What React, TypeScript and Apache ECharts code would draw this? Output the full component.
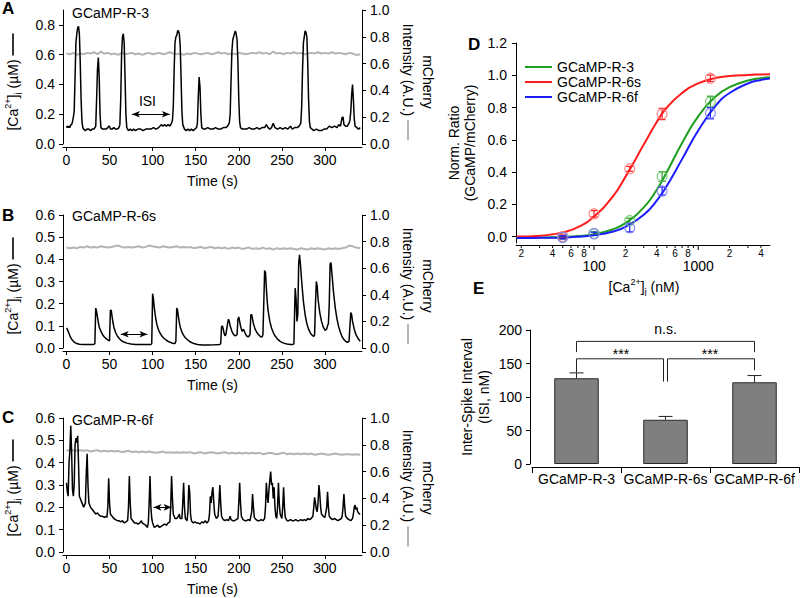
import { useEffect, useRef } from 'react';
import * as echarts from 'echarts';

const FONT = '"Liberation Sans", Arial, Helvetica, sans-serif';

// ---------------- Panels A-C : calcium traces ----------------
const timeTicks = [0, 50, 100, 150, 200, 250, 300];
const caTicksA = [0, 0.2, 0.4, 0.6, 0.8];
const caTicksBC = [0, 0.1, 0.2, 0.3, 0.4, 0.5, 0.6];
const traceNames = ['GCaMP-R-3', 'GCaMP-R-6s', 'GCaMP-R-6f'];

const caA = [
  [0, 0.11], [1, 0.12], [2, 0.11], [3, 0.12], [4, 0.11], [5, 0.13], [6, 0.13], [7, 0.15], [8, 0.18], [9, 0.22],
  [10, 0.45], [11, 0.68], [12, 0.74], [13, 0.78], [14, 0.79], [15, 0.74], [16, 0.55], [17, 0.3], [18, 0.15], [19, 0.11],
  [20, 0.1], [22, 0.09], [24, 0.1], [26, 0.1], [28, 0.09], [30, 0.1], [32, 0.1], [34, 0.12], [35, 0.3], [36, 0.5],
  [37, 0.58], [38, 0.45], [39, 0.2], [40, 0.11], [42, 0.1], [44, 0.1], [46, 0.1], [48, 0.11], [49, 0.12], [50, 0.12],
  [51, 0.1], [53, 0.1], [55, 0.11], [57, 0.1], [59, 0.1], [61, 0.11], [62, 0.13], [63, 0.3], [64, 0.6], [65, 0.72],
  [66, 0.74], [67, 0.68], [68, 0.45], [69, 0.2], [70, 0.11], [72, 0.09], [74, 0.1], [76, 0.09], [78, 0.1], [80, 0.09],
  [83, 0.1], [86, 0.1], [89, 0.09], [92, 0.1], [95, 0.1], [98, 0.1], [101, 0.11], [104, 0.1], [107, 0.11], [110, 0.13],
  [112, 0.12], [114, 0.13], [116, 0.12], [118, 0.13], [120, 0.12], [122, 0.14], [123, 0.16], [124, 0.25], [125, 0.5], [126, 0.68],
  [127, 0.72], [128, 0.73], [129, 0.76], [130, 0.76], [131, 0.74], [132, 0.66], [133, 0.45], [134, 0.22], [135, 0.13], [137, 0.1],
  [139, 0.09], [141, 0.1], [143, 0.09], [145, 0.1], [147, 0.09], [149, 0.1], [151, 0.11], [152, 0.14], [153, 0.32], [154, 0.45],
  [155, 0.38], [156, 0.2], [157, 0.11], [159, 0.1], [161, 0.1], [164, 0.11], [167, 0.1], [170, 0.1], [173, 0.11], [176, 0.1],
  [179, 0.1], [182, 0.11], [185, 0.11], [187, 0.12], [189, 0.14], [190, 0.2], [191, 0.42], [192, 0.62], [193, 0.7], [194, 0.72],
  [195, 0.74], [196, 0.76], [197, 0.74], [198, 0.7], [199, 0.55], [200, 0.3], [201, 0.15], [202, 0.11], [204, 0.1], [206, 0.1],
  [209, 0.1], [212, 0.11], [215, 0.1], [218, 0.1], [221, 0.11], [224, 0.1], [227, 0.11], [230, 0.11], [232, 0.13], [234, 0.11],
  [236, 0.1], [238, 0.11], [240, 0.14], [242, 0.11], [245, 0.1], [248, 0.11], [251, 0.1], [254, 0.11], [257, 0.1], [260, 0.12],
  [262, 0.1], [265, 0.11], [268, 0.11], [270, 0.12], [272, 0.14], [273, 0.25], [274, 0.5], [275, 0.68], [276, 0.72], [277, 0.76],
  [278, 0.75], [279, 0.72], [280, 0.55], [281, 0.3], [282, 0.15], [283, 0.11], [285, 0.1], [287, 0.09], [290, 0.1], [293, 0.09],
  [296, 0.09], [299, 0.1], [302, 0.1], [305, 0.12], [308, 0.11], [311, 0.12], [314, 0.11], [316, 0.13], [318, 0.12], [319, 0.15],
  [320, 0.18], [321, 0.18], [322, 0.13], [324, 0.12], [326, 0.12], [328, 0.14], [329, 0.16], [330, 0.22], [331, 0.33], [332, 0.4],
  [333, 0.3], [334, 0.17], [335, 0.12], [337, 0.11], [339, 0.1], [341, 0.11],
];

const caB = [
  [0, 0.09], [1, 0.085], [2, 0.075], [3, 0.065], [4, 0.055], [5, 0.047], [6, 0.04], [7, 0.035], [8, 0.03], [10, 0.024],
  [12, 0.02], [15, 0.017], [20, 0.016], [25, 0.016], [30, 0.016], [32, 0.017], [33, 0.02], [34, 0.18], [35, 0.165], [36, 0.14],
  [37, 0.115], [38, 0.095], [40, 0.075], [42, 0.06], [44, 0.05], [46, 0.042], [48, 0.036], [50, 0.032], [51, 0.17], [52, 0.17],
  [53, 0.14], [54, 0.115], [55, 0.095], [57, 0.07], [59, 0.055], [61, 0.044], [63, 0.036], [66, 0.028], [70, 0.022], [75, 0.018],
  [80, 0.016], [85, 0.016], [90, 0.016], [95, 0.016], [98, 0.016], [99, 0.02], [100, 0.245], [101, 0.22], [102, 0.18], [103, 0.15],
  [104, 0.125], [105, 0.105], [107, 0.08], [109, 0.065], [111, 0.053], [113, 0.044], [116, 0.035], [119, 0.028], [122, 0.023], [125, 0.02],
  [126, 0.02], [127, 0.03], [128, 0.18], [129, 0.17], [130, 0.14], [131, 0.115], [132, 0.095], [134, 0.072], [136, 0.057], [138, 0.046],
  [141, 0.035], [144, 0.027], [148, 0.02], [152, 0.016], [158, 0.014], [165, 0.014], [172, 0.015], [178, 0.016], [179, 0.02], [180, 0.095],
  [181, 0.1], [182, 0.085], [183, 0.065], [184, 0.055], [185, 0.06], [187, 0.11], [188, 0.13], [189, 0.12], [190, 0.1], [192, 0.075],
  [194, 0.06], [196, 0.055], [198, 0.06], [199, 0.13], [200, 0.14], [201, 0.12], [202, 0.1], [203, 0.085], [204, 0.075], [205, 0.085],
  [206, 0.08], [207, 0.07], [209, 0.055], [211, 0.05], [213, 0.06], [214, 0.15], [215, 0.15], [216, 0.13], [217, 0.11], [219, 0.085],
  [221, 0.07], [223, 0.06], [225, 0.052], [227, 0.05], [228, 0.06], [229, 0.2], [230, 0.35], [231, 0.34], [232, 0.27], [233, 0.21],
  [234, 0.17], [236, 0.12], [238, 0.09], [240, 0.07], [242, 0.055], [245, 0.04], [248, 0.03], [252, 0.022], [256, 0.018], [260, 0.016],
  [263, 0.016], [264, 0.02], [265, 0.2], [265.5, 0.27], [266.5, 0.22], [267.5, 0.12], [268.5, 0.15], [269.5, 0.38], [270.5, 0.42], [271.5, 0.38],
  [273, 0.3], [275, 0.21], [277, 0.15], [279, 0.11], [281, 0.085], [283, 0.068], [285, 0.058], [287, 0.052], [288, 0.06], [289, 0.2],
  [290, 0.3], [291, 0.28], [292, 0.22], [294, 0.16], [296, 0.12], [298, 0.095], [300, 0.08], [302, 0.085], [303, 0.1], [304, 0.11],
  [305, 0.2], [306, 0.38], [307, 0.385], [308, 0.34], [310, 0.25], [312, 0.18], [314, 0.13], [316, 0.095], [318, 0.07], [320, 0.05],
  [322, 0.038], [324, 0.03], [326, 0.026], [328, 0.03], [329, 0.1], [330, 0.16], [331, 0.15], [332, 0.12], [334, 0.085], [336, 0.06],
  [338, 0.045], [340, 0.035], [341, 0.03],
];

const caC = [
  [0, 0.31], [1, 0.27], [2, 0.25], [3, 0.4], [4, 0.45], [5, 0.565], [6, 0.45], [7, 0.28], [8, 0.25], [9, 0.3],
  [10, 0.48], [11, 0.51], [12, 0.49], [13, 0.52], [14, 0.4], [15, 0.25], [16, 0.24], [18, 0.22], [20, 0.2], [22, 0.22],
  [23, 0.35], [24, 0.44], [25, 0.3], [26, 0.22], [28, 0.2], [30, 0.19], [32, 0.18], [34, 0.17], [36, 0.175], [38, 0.165],
  [40, 0.16], [42, 0.16], [44, 0.155], [46, 0.16], [47, 0.155], [48, 0.2], [49, 0.33], [50, 0.22], [51, 0.17], [53, 0.16],
  [55, 0.15], [57, 0.145], [59, 0.14], [61, 0.14], [63, 0.135], [65, 0.14], [67, 0.13], [69, 0.135], [71, 0.14], [72, 0.2],
  [73, 0.34], [74, 0.22], [75, 0.15], [77, 0.14], [79, 0.13], [81, 0.13], [83, 0.125], [85, 0.13], [87, 0.14], [88, 0.13],
  [90, 0.125], [92, 0.12], [94, 0.11], [95, 0.13], [96, 0.22], [97, 0.34], [98, 0.2], [99, 0.15], [100, 0.13], [102, 0.11],
  [104, 0.115], [106, 0.12], [108, 0.11], [110, 0.115], [112, 0.12], [114, 0.125], [116, 0.12], [118, 0.13], [120, 0.135], [121, 0.2],
  [122, 0.34], [123, 0.24], [124, 0.17], [126, 0.15], [128, 0.15], [130, 0.16], [131, 0.17], [132, 0.15], [134, 0.15], [135, 0.22],
  [136, 0.31], [137, 0.2], [138, 0.15], [140, 0.14], [141, 0.18], [142, 0.3], [143, 0.27], [144, 0.17], [145, 0.14], [147, 0.13],
  [149, 0.135], [151, 0.13], [153, 0.13], [155, 0.125], [157, 0.135], [159, 0.13], [161, 0.14], [163, 0.13], [165, 0.14], [166, 0.17],
  [167, 0.25], [168, 0.22], [169, 0.27], [170, 0.29], [171, 0.22], [172, 0.17], [173, 0.16], [174, 0.15], [176, 0.16], [177, 0.22],
  [178, 0.3], [179, 0.22], [180, 0.16], [182, 0.145], [184, 0.14], [186, 0.145], [188, 0.14], [190, 0.16], [191, 0.145], [193, 0.14],
  [195, 0.14], [197, 0.145], [199, 0.15], [200, 0.22], [201, 0.31], [202, 0.22], [203, 0.16], [205, 0.145], [207, 0.14], [209, 0.14],
  [211, 0.145], [213, 0.14], [215, 0.18], [216, 0.26], [217, 0.2], [218, 0.155], [220, 0.145], [222, 0.14], [224, 0.14], [226, 0.145],
  [228, 0.14], [230, 0.15], [231, 0.2], [232, 0.31], [233, 0.25], [234, 0.22], [235, 0.28], [236, 0.32], [237, 0.36], [238, 0.3],
  [239, 0.31], [240, 0.24], [241, 0.29], [242, 0.2], [243, 0.16], [244, 0.15], [245, 0.2], [246, 0.31], [247, 0.22], [248, 0.17],
  [249, 0.16], [250, 0.15], [251, 0.2], [252, 0.29], [253, 0.2], [254, 0.155], [256, 0.14], [258, 0.14], [260, 0.145], [262, 0.14],
  [264, 0.14], [266, 0.145], [268, 0.14], [270, 0.14], [272, 0.145], [274, 0.14], [276, 0.145], [278, 0.14], [280, 0.15], [282, 0.145],
  [284, 0.15], [286, 0.16], [287, 0.2], [288, 0.245], [289, 0.22], [290, 0.19], [291, 0.18], [292, 0.22], [293, 0.3], [294, 0.26],
  [295, 0.2], [296, 0.17], [298, 0.16], [300, 0.155], [302, 0.2], [303, 0.27], [304, 0.2], [305, 0.16], [307, 0.15], [309, 0.145],
  [311, 0.15], [313, 0.145], [315, 0.14], [317, 0.145], [319, 0.15], [320, 0.16], [321, 0.2], [322, 0.26], [323, 0.2], [324, 0.16],
  [326, 0.15], [328, 0.145], [330, 0.14], [332, 0.15], [333, 0.17], [334, 0.2], [335, 0.21], [336, 0.19], [337, 0.2], [338, 0.18],
  [339, 0.175], [340, 0.17], [341, 0.17],
];

const mchA = [
  [0, 0.675], [4, 0.67], [8, 0.68], [12, 0.665], [16, 0.675], [20, 0.67], [24, 0.68], [28, 0.675], [32, 0.685], [36, 0.67],
  [40, 0.69], [44, 0.675], [48, 0.68], [52, 0.67], [56, 0.675], [60, 0.665], [64, 0.68], [68, 0.67], [72, 0.675], [76, 0.68],
  [80, 0.67], [84, 0.675], [88, 0.665], [92, 0.675], [96, 0.68], [100, 0.67], [104, 0.675], [108, 0.68], [112, 0.67], [116, 0.675],
  [120, 0.685], [124, 0.675], [128, 0.67], [132, 0.675], [136, 0.665], [140, 0.675], [144, 0.67], [148, 0.68], [152, 0.675], [156, 0.67],
  [160, 0.675], [164, 0.68], [168, 0.67], [172, 0.675], [176, 0.685], [180, 0.675], [184, 0.68], [188, 0.67], [192, 0.675], [196, 0.67],
  [200, 0.68], [204, 0.675], [208, 0.67], [212, 0.675], [216, 0.68], [220, 0.675], [224, 0.685], [228, 0.675], [232, 0.68], [236, 0.67],
  [240, 0.69], [244, 0.675], [248, 0.68], [252, 0.67], [256, 0.68], [260, 0.675], [264, 0.685], [268, 0.675], [272, 0.68], [276, 0.67],
  [280, 0.675], [284, 0.68], [288, 0.675], [292, 0.685], [296, 0.675], [300, 0.68], [304, 0.675], [308, 0.685], [312, 0.675], [316, 0.68],
  [320, 0.675], [324, 0.67], [328, 0.68], [332, 0.675], [336, 0.665], [341, 0.67],
];

const mchB = [
  [0, 0.755], [4, 0.75], [8, 0.755], [12, 0.75], [16, 0.76], [20, 0.755], [24, 0.765], [28, 0.755], [32, 0.76], [36, 0.755],
  [40, 0.765], [44, 0.76], [48, 0.755], [52, 0.76], [56, 0.765], [60, 0.77], [64, 0.76], [68, 0.755], [72, 0.76], [76, 0.755],
  [80, 0.76], [84, 0.765], [88, 0.755], [92, 0.76], [96, 0.77], [100, 0.765], [104, 0.76], [108, 0.755], [112, 0.765], [116, 0.76],
  [120, 0.755], [124, 0.76], [128, 0.765], [132, 0.755], [136, 0.76], [140, 0.755], [144, 0.76], [148, 0.75], [152, 0.755], [156, 0.76],
  [160, 0.75], [164, 0.755], [168, 0.76], [172, 0.75], [176, 0.755], [180, 0.75], [184, 0.755], [188, 0.745], [192, 0.755], [196, 0.75],
  [200, 0.755], [204, 0.745], [208, 0.75], [212, 0.755], [216, 0.745], [220, 0.75], [224, 0.745], [228, 0.755], [232, 0.745], [236, 0.75],
  [240, 0.74], [244, 0.75], [248, 0.745], [252, 0.75], [256, 0.745], [260, 0.75], [264, 0.745], [268, 0.74], [272, 0.75], [276, 0.745],
  [280, 0.74], [284, 0.75], [288, 0.745], [292, 0.75], [296, 0.745], [300, 0.74], [304, 0.75], [308, 0.745], [312, 0.75], [316, 0.745],
  [320, 0.75], [324, 0.755], [328, 0.77], [332, 0.765], [336, 0.755], [341, 0.75],
];

const mchC = [
  [0, 0.76], [4, 0.755], [8, 0.76], [12, 0.755], [16, 0.76], [20, 0.755], [24, 0.76], [28, 0.75], [32, 0.755], [36, 0.76],
  [40, 0.75], [44, 0.755], [48, 0.75], [52, 0.755], [56, 0.75], [60, 0.755], [64, 0.745], [68, 0.75], [72, 0.755], [76, 0.745],
  [80, 0.75], [84, 0.745], [88, 0.75], [92, 0.745], [96, 0.75], [100, 0.745], [104, 0.74], [108, 0.745], [112, 0.75], [116, 0.74],
  [120, 0.745], [124, 0.74], [128, 0.745], [132, 0.74], [136, 0.745], [140, 0.74], [144, 0.745], [148, 0.735], [152, 0.74], [156, 0.745],
  [160, 0.735], [164, 0.74], [168, 0.745], [172, 0.74], [176, 0.735], [180, 0.74], [184, 0.745], [188, 0.735], [192, 0.74], [196, 0.735],
  [200, 0.74], [204, 0.735], [208, 0.74], [212, 0.735], [216, 0.74], [220, 0.735], [224, 0.74], [228, 0.73], [232, 0.735], [236, 0.74],
  [240, 0.735], [244, 0.73], [248, 0.735], [252, 0.74], [256, 0.73], [260, 0.735], [264, 0.73], [268, 0.735], [272, 0.73], [276, 0.735],
  [280, 0.73], [284, 0.735], [288, 0.725], [292, 0.73], [296, 0.735], [300, 0.73], [304, 0.725], [308, 0.73], [312, 0.735], [316, 0.73],
  [320, 0.725], [324, 0.73], [328, 0.73], [332, 0.725], [336, 0.73], [341, 0.725],
];

const isiArrowA = [[76, 0.2], [120, 0.2]];
const isiArrowB = [[63, 0.062], [94, 0.062]];
const isiArrowC = [[101, 0.2], [122, 0.2]];
const isiTextA = [94, 0.29];

// ---------------- Panel D : calibration ----------------
const doseConc = [50, 100, 220, 450, 1310];
const ratio3 = [-0.005, 0.019, 0.099, 0.372, 0.835];
const sem3 = [0.01, 0.01, 0.015, 0.03, 0.035];
const ratio6s = [0.0, 0.141, 0.42, 0.76, 0.981];
const sem6s = [0.01, 0.02, 0.015, 0.035, 0.02];
const ratio6f = [-0.005, 0.017, 0.054, 0.282, 0.765];
const sem6f = [0.01, 0.01, 0.025, 0.025, 0.035];

const fitConc = [18, 20, 30, 40, 50, 70, 100, 150, 200, 300, 400, 500, 700, 1000, 1500, 2000, 3000, 4000, 4890];
const fit3 = [-0.007, -0.007, -0.006, -0.005, -0.003, 0.003, 0.015, 0.044, 0.083, 0.181, 0.29, 0.4, 0.58, 0.745, 0.873, 0.926, 0.967, 0.982, 0.988];
const fit6s = [0.0, 0.0, 0.005, 0.014, 0.025, 0.058, 0.125, 0.245, 0.37, 0.57, 0.71, 0.8, 0.89, 0.95, 0.985, 0.995, 1.002, 1.005, 1.007];
const fit6f = [-0.009, -0.009, -0.008, -0.007, -0.006, -0.002, 0.008, 0.03, 0.06, 0.135, 0.223, 0.315, 0.48, 0.658, 0.818, 0.89, 0.949, 0.971, 0.98];

const ratioTicks = [0, 0.2, 0.4, 0.6, 0.8, 1.0, 1.2];
const doseLabeledMinor = [20, 40, 60, 80, 200, 400, 600, 800, 2000, 4000];
const doseMinor = [30, 50, 70, 90, 300, 500, 700, 900, 3000];
const doseMajor = [100, 1000];

// ---------------- Panel E : inter-spike interval ----------------
const isiGroups = ['GCaMP-R-3', 'GCaMP-R-6s', 'GCaMP-R-6f'];
const isiMean = [128, 66, 122];
const isiSem = [8, 5, 10];
// [fromGroup, toGroup, leftEndY, topY, rightEndY]
const sigBrackets = [
  [0, 2, 167, 183, 167],
  [0, 1, 137, 157, 123],
  [1, 2, 123, 157, 140],
];
const sigLabels = ['n.s.', '***', '***'];
const sigLabelY = [201, 164, 164];

// ---------------- styling ----------------
const GREEN = '#1e9e1e';
const RED = '#ff1c1c';
const BLUE = '#1c1cff';
const GREEN_L = '#6cc46c';
const RED_L = '#ff7a7a';
const BLUE_L = '#7a7aff';

const axisLine = { show: true, onZero: false, lineStyle: { color: '#000', width: 1 } };
const tick = (len: number, extra: any = {}) => ({ show: true, inside: false, length: len, lineStyle: { color: '#000', width: 1 }, ...extra });
const lbl = { color: '#000', fontSize: 14, fontFamily: FONT };
const noSplit = { show: false };

const supRich = {
  n: { fontSize: 14, fontFamily: FONT, fill: '#000', color: '#000', lineHeight: 20 },
  sup: { fontSize: 9, fontFamily: FONT, fill: '#000', color: '#000', verticalAlign: 'top', lineHeight: 11 },
  sub: { fontSize: 10, fontFamily: FONT, fill: '#000', color: '#000', verticalAlign: 'bottom', lineHeight: 12 },
  kdash: { width: 22, height: 1.6, backgroundColor: '#000', verticalAlign: 'middle' },
  gdash: { width: 20, height: 2, backgroundColor: '#b4b4b4', verticalAlign: 'middle' },
  sp: { width: 4, fontSize: 14 },
};

const zip = (xs: number[], ys: number[]) => xs.map((x, i) => [x, ys[i]]);

function buildOption() {
  const grids = [
    { left: 63, top: 10, width: 299, height: 134 },
    { left: 63, top: 215, width: 299, height: 133 },
    { left: 63, top: 418, width: 299, height: 134 },
    { left: 516, top: 43, width: 254, height: 200 },
    { left: 532, top: 330, width: 267, height: 134 },
  ];
  const caData = [caA, caB, caC];
  const mchData = [mchA, mchB, mchC];
  const arrows = [isiArrowA, isiArrowB, isiArrowC];

  const xAxis: any[] = [];
  const yAxis: any[] = [];
  const series: any[] = [];

  for (let i = 0; i < 3; i++) {
    xAxis.push({
      type: 'value', gridIndex: i, min: -4, max: 343, offset: 3,
      axisLine, axisTick: tick(4, { customValues: timeTicks }),
      axisLabel: { ...lbl, margin: 6, customValues: timeTicks },
      splitLine: noSplit,
      name: 'Time (s)', nameLocation: 'middle', nameGap: 27, nameTextStyle: { ...lbl },
    });
    const ticks = i === 0 ? caTicksA : caTicksBC;
    yAxis.push({
      type: 'value', gridIndex: i, position: 'left', min: 0, max: i === 0 ? 0.9 : 0.6,
      axisLine, axisTick: tick(4, { customValues: ticks }),
      axisLabel: { ...lbl, margin: 8, customValues: ticks, formatter: (v: number) => v.toFixed(1) },
      splitLine: noSplit,
    });
    yAxis.push({
      type: 'value', gridIndex: i, position: 'right', min: 0, max: 1, interval: 0.2,
      axisLine, axisTick: tick(4),
      axisLabel: { ...lbl, margin: 8, formatter: (v: number) => v.toFixed(1) },
      splitLine: noSplit,
    });
    series.push({
      type: 'line', xAxisIndex: i, yAxisIndex: 2 * i + 1, data: mchData[i],
      symbol: 'none', lineStyle: { color: '#b4b4b4', width: 2 }, z: 1, silent: true,
    });
    const s: any = {
      type: 'line', xAxisIndex: i, yAxisIndex: 2 * i, data: caData[i],
      symbol: 'none', lineStyle: { color: '#000', width: 1.5 }, z: 3, silent: true,
      markLine: {
        silent: true, symbol: ['arrow', 'arrow'], symbolSize: [5, 8],
        label: { show: false }, lineStyle: { color: '#000', width: 1, type: 'solid' },
        data: [[{ coord: arrows[i][0] }, { coord: arrows[i][1] }]],
      },
    };
    if (i === 0) {
      s.markPoint = {
        silent: true, symbol: 'circle', symbolSize: 0,
        label: { show: true, position: 'inside', formatter: 'ISI', ...lbl },
        data: [{ coord: isiTextA }],
      };
    }
    series.push(s);
  }

  // Panel D axes (index 3 / 6)
  xAxis.push({
    type: 'log', gridIndex: 3, min: 17.8, max: 4890, offset: 2,
    axisLine, axisTick: { show: false }, axisLabel: { show: false },
    splitLine: noSplit, minorTick: { show: false }, minorSplitLine: { show: false },
  });
  yAxis.push({
    type: 'value', gridIndex: 3, min: -0.04, max: 1.2,
    axisLine, axisTick: tick(4, { customValues: ratioTicks }),
    axisLabel: { ...lbl, margin: 9, customValues: ratioTicks, formatter: (v: number) => v.toFixed(1) },
    splitLine: noSplit,
  });
  // Panel E axes (index 4 / 7)
  xAxis.push({
    type: 'category', gridIndex: 4, data: isiGroups, offset: 3,
    axisLine, axisTick: tick(6, { alignWithLabel: false }),
    axisLabel: { ...lbl, margin: 5, interval: 0 },
    splitLine: noSplit,
  });
  yAxis.push({
    type: 'value', gridIndex: 4, min: 0, max: 200, interval: 50, offset: 2,
    axisLine, axisTick: tick(4), axisLabel: { ...lbl, margin: 8 },
    splitLine: noSplit,
  });

  const yMinD = -0.04;
  const errRender = (color: string) => (params: any, api: any) => {
    const x = api.value(0);
    const lo = api.coord([x, api.value(1)]);
    const hi = api.coord([x, api.value(2)]);
    const w = 3.5;
    const st = { stroke: color, lineWidth: 1.2 };
    return {
      type: 'group', children: [
        { type: 'line', shape: { x1: lo[0], y1: lo[1], x2: hi[0], y2: hi[1] }, style: st },
        { type: 'line', shape: { x1: lo[0] - w, y1: lo[1], x2: lo[0] + w, y2: lo[1] }, style: st },
        { type: 'line', shape: { x1: hi[0] - w, y1: hi[1], x2: hi[0] + w, y2: hi[1] }, style: st },
      ],
    };
  };

  const doseSets = [
    { name: 'GCaMP-R-3', fit: fit3, pts: ratio3, sem: sem3, c: GREEN, cl: GREEN_L },
    { name: 'GCaMP-R-6s', fit: fit6s, pts: ratio6s, sem: sem6s, c: RED, cl: RED_L },
    { name: 'GCaMP-R-6f', fit: fit6f, pts: ratio6f, sem: sem6f, c: BLUE, cl: BLUE_L },
  ];
  doseSets.forEach((d) => {
    series.push({
      type: 'line', name: d.name, xAxisIndex: 3, yAxisIndex: 6, data: zip(fitConc, d.fit),
      symbol: 'none', smooth: true, lineStyle: { color: d.c, width: 2 }, itemStyle: { color: d.c }, z: 3, silent: true,
    });
    series.push({
      type: 'scatter', name: d.name + ' data', xAxisIndex: 3, yAxisIndex: 6, data: zip(doseConc, d.pts),
      symbol: 'circle', symbolSize: 10,
      itemStyle: { color: 'rgba(0,0,0,0)', borderColor: d.cl, borderWidth: 1.3 }, z: 4, silent: true,
    });
    series.push({
      type: 'custom', xAxisIndex: 3, yAxisIndex: 6, silent: true, z: 4,
      data: doseConc.map((c, k) => [c, d.pts[k] - d.sem[k], d.pts[k] + d.sem[k]]),
      renderItem: errRender(d.c),
    });
  });

  const tickRender = (len: number, labelMode: 'none' | 'minor' | 'major') => (params: any, api: any) => {
    const v = api.value(0);
    const p = api.coord([v, yMinD]);
    const y0 = p[1] + 2;
    const children: any[] = [
      { type: 'line', shape: { x1: p[0], y1: y0, x2: p[0], y2: y0 + len }, style: { stroke: '#000', lineWidth: 1 } },
    ];
    if (labelMode !== 'none') {
      const mag = Math.pow(10, Math.floor(Math.log10(v) + 1e-9));
      const text = labelMode === 'minor' ? String(Math.round(v / mag)) : String(v);
      children.push({
        type: 'text', x: p[0], y: labelMode === 'minor' ? y0 + 8 : y0 + 21,
        style: {
          text, fill: '#000', fontFamily: FONT, fontSize: labelMode === 'minor' ? 10 : 14,
          align: 'center', verticalAlign: 'middle',
        },
      });
    }
    return { type: 'group', children };
  };
  series.push({ type: 'custom', xAxisIndex: 3, yAxisIndex: 6, silent: true, data: doseMinor.map((v) => [v, yMinD]), renderItem: tickRender(3, 'none') });
  series.push({ type: 'custom', xAxisIndex: 3, yAxisIndex: 6, silent: true, data: doseLabeledMinor.map((v) => [v, yMinD]), renderItem: tickRender(3, 'minor') });
  series.push({ type: 'custom', xAxisIndex: 3, yAxisIndex: 6, silent: true, data: doseMajor.map((v) => [v, yMinD]), renderItem: tickRender(5, 'major') });

  // Panel E series
  series.push({
    type: 'bar', xAxisIndex: 4, yAxisIndex: 7, data: isiMean, barWidth: '50%', silent: true,
    itemStyle: { color: '#7f7f7f', borderColor: '#2a2a2a', borderWidth: 1 }, z: 2,
  });
  series.push({
    type: 'custom', xAxisIndex: 4, yAxisIndex: 7, silent: true, z: 3,
    data: isiMean.map((m, k) => [k, m, m + isiSem[k]]),
    renderItem: (params: any, api: any) => {
      const lo = api.coord([api.value(0), api.value(1)]);
      const hi = api.coord([api.value(0), api.value(2)]);
      const st = { stroke: '#222', lineWidth: 1 };
      return {
        type: 'group', children: [
          { type: 'line', shape: { x1: lo[0], y1: lo[1], x2: hi[0], y2: hi[1] }, style: st },
          { type: 'line', shape: { x1: hi[0] - 7, y1: hi[1], x2: hi[0] + 7, y2: hi[1] }, style: st },
        ],
      };
    },
  });
  series.push({
    type: 'custom', xAxisIndex: 4, yAxisIndex: 7, silent: true, z: 3,
    data: sigBrackets,
    renderItem: (params: any, api: any) => {
      const i0 = api.value(0);
      const i1 = api.value(1);
      const a = api.coord([i0, api.value(2)]);
      const b = api.coord([i0, api.value(3)]);
      const c = api.coord([i1, api.value(3)]);
      const d = api.coord([i1, api.value(4)]);
      const dx0 = i0 === 1 ? 2 : 0;
      const dx1 = i1 === 1 ? -2 : 0;
      const ty = api.coord([i0, sigLabelY[params.dataIndex]])[1];
      return {
        type: 'group', children: [
          {
            type: 'polyline',
            shape: { points: [[a[0] + dx0, a[1]], [b[0] + dx0, b[1]], [c[0] + dx1, c[1]], [d[0] + dx1, d[1]]] },
            style: { stroke: '#222', lineWidth: 1, fill: 'none' },
          },
          {
            type: 'text', x: (a[0] + c[0]) / 2, y: ty,
            style: { text: sigLabels[params.dataIndex], fill: '#000', fontFamily: FONT, fontSize: 14, align: 'center', verticalAlign: 'middle' },
          },
        ],
      };
    },
  });

  const txt = (x: number, y: number, text: string, extra: any = {}, styleExtra: any = {}) => ({
    type: 'text', x, y, silent: true, ...extra,
    style: { text, fill: '#000', fontFamily: FONT, fontSize: 14, align: 'left', verticalAlign: 'middle', ...styleExtra },
  });
  const letter = (x: number, y: number, t: string) => txt(x, y, t, {}, { fontSize: 17, fontWeight: 'bold' });

  const caTitle = '{n|[Ca}{sup|2+}{n|]}{sub|i}{n| (µM)}{sp| }{kdash| }';
  const mchTitle = '{n|mCherry}\n{n|Intensity (A.U.)}{sp| }{gdash| }';
  const centers = [10 + 67 + 5, 215 + 66 + 5, 418 + 67 + 3];

  const graphic: any[] = [
    letter(2, 8, 'A'), letter(2, 215, 'B'), letter(2, 417, 'C'), letter(468, 44, 'D'), letter(473, 288, 'E'),
    txt(72, 13, traceNames[0]), txt(72, 216, traceNames[1]), txt(72, 420, traceNames[2]),
  ];
  centers.forEach((cy) => {
    graphic.push(txt(13, cy, caTitle, { rotation: Math.PI / 2 }, { align: 'center', rich: supRich }));
    graphic.push(txt(418, cy, mchTitle, { rotation: -Math.PI / 2 }, { align: 'center', rich: supRich, lineHeight: 16 }));
  });
  graphic.push(txt(462, 143, 'Norm. Ratio\n(GCaMP/mCherry)', { rotation: Math.PI / 2 }, { align: 'center', lineHeight: 16 }));
  graphic.push(txt(644, 287, '{n|[Ca}{sup|2+}{n|]}{sub|i}{n| (nM)}', {}, { align: 'center', rich: supRich }));
  graphic.push(txt(475, 397, 'Inter-Spike Interval\n(ISI, nM)', { rotation: Math.PI / 2 }, { align: 'center', lineHeight: 17 }));

  return {
    animation: false,
    backgroundColor: '#fff',
    textStyle: { fontFamily: FONT },
    grid: grids,
    xAxis,
    yAxis,
    legend: {
      data: ['GCaMP-R-3', 'GCaMP-R-6s', 'GCaMP-R-6f'],
      orient: 'vertical', left: 520, top: 55, icon: 'rect', itemWidth: 27, itemHeight: 2, itemGap: 1,
      selectedMode: false, textStyle: { ...lbl, padding: [0, 0, 0, 0] },
    },
    series,
    graphic,
  };
}

export default function App() {
  const ref = useRef<HTMLDivElement>(null);
  useEffect(() => {
    if (!ref.current) return;
    const chart = echarts.init(ref.current, undefined, { renderer: 'svg' });
    chart.setOption(buildOption() as any);
    return () => chart.dispose();
  }, []);
  return (
    <div
      ref={ref}
      style={{ position: 'fixed', left: 0, top: 0, width: 800, height: 598, background: '#fff' }}
    />
  );
}
